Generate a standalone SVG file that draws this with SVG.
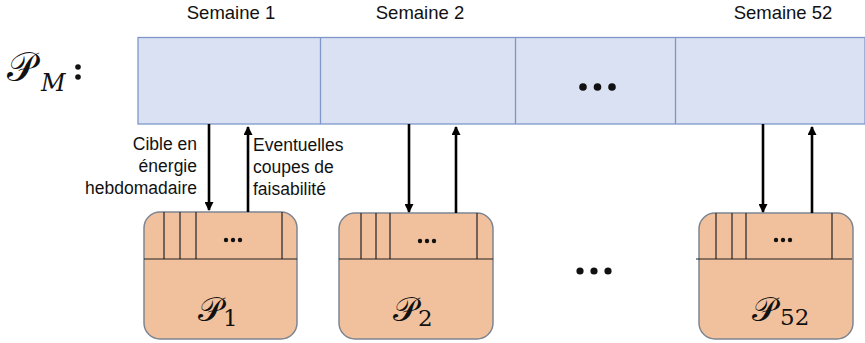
<svg xmlns="http://www.w3.org/2000/svg" width="865" height="343" viewBox="0 0 865 343">
<style>
.lbl{font-family:"Liberation Sans",Arial,sans-serif;font-size:17.5px;fill:#111}
.hdr{font-family:"Liberation Sans",Arial,sans-serif;font-size:18.5px;fill:#111;text-anchor:middle}
.math{font-family:"DejaVu Serif","Noto Sans",serif;fill:#111}
.box{fill:#f1c19e;stroke:#7d8591;stroke-width:1.5}
.div{stroke:#222;stroke-width:1.2}
.arr{stroke:#000;stroke-width:2.6;fill:none;marker-end:url(#ah)}
.dot{fill:#111}
</style>
<defs>
<marker id="ah" markerWidth="9" markerHeight="9" refX="8" refY="4.5" orient="auto" markerUnits="userSpaceOnUse" viewBox="0 0 9 9"><path d="M0,0 L9,4.5 L0,9 z" fill="#000"/></marker>
</defs>
<g id="title">
<text class="math" x="7" y="81" font-size="40">𝒫</text>
<text class="math" x="41" y="91" font-size="24" font-style="italic">M</text>
<circle class="dot" cx="78" cy="67" r="2.8"/>
<circle class="dot" cx="78" cy="77" r="2.8"/>
</g>
<g id="headers">
<text class="hdr" x="231" y="19">Semaine 1</text>
<text class="hdr" x="420" y="19">Semaine 2</text>
<text class="hdr" x="783" y="19">Semaine 52</text>
</g>
<g id="PM">
<rect x="138" y="37.5" width="727" height="86.5" fill="#d9e1f2" stroke="#7f97c8" stroke-width="1.3"/>
<line x1="320.5" y1="37.5" x2="320.5" y2="124" stroke="#7f97c8" stroke-width="1.3"/>
<line x1="515.5" y1="37.5" x2="515.5" y2="124" stroke="#7f97c8" stroke-width="1.3"/>
<line x1="675.5" y1="37.5" x2="675.5" y2="124" stroke="#7f97c8" stroke-width="1.3"/>
<circle class="dot" cx="583" cy="87" r="3.8"/>
<circle class="dot" cx="597.5" cy="87" r="3.8"/>
<circle class="dot" cx="612" cy="87" r="3.8"/>
</g>
<g id="P1">
<rect class="box" x="144" y="212" width="153" height="127" rx="16"/>
<line class="div" x1="144" y1="259" x2="297" y2="259"/>
<line class="div" x1="164" y1="212" x2="164" y2="259"/>
<line class="div" x1="180" y1="212" x2="180" y2="259"/>
<line class="div" x1="196" y1="212" x2="196" y2="259"/>
<line class="div" x1="282" y1="212" x2="282" y2="259"/>
<circle class="dot" cx="226" cy="240" r="2.2"/><circle class="dot" cx="233" cy="240" r="2.2"/><circle class="dot" cx="240" cy="240" r="2.2"/>
<text class="math" x="198" y="321" font-size="34">𝒫</text>
<text class="math" x="223" y="326" font-size="23">1</text>
</g>
<g id="P2">
<rect class="box" x="339" y="213" width="154" height="126" rx="16"/>
<line class="div" x1="339" y1="259" x2="493" y2="259"/>
<line class="div" x1="361" y1="213" x2="361" y2="259"/>
<line class="div" x1="376" y1="213" x2="376" y2="259"/>
<line class="div" x1="390" y1="213" x2="390" y2="259"/>
<line class="div" x1="477" y1="213" x2="477" y2="259"/>
<circle class="dot" cx="420" cy="241" r="2.2"/><circle class="dot" cx="427" cy="241" r="2.2"/><circle class="dot" cx="434" cy="241" r="2.2"/>
<text class="math" x="393" y="321" font-size="34">𝒫</text>
<text class="math" x="418" y="326" font-size="23">2</text>
</g>
<g id="P52">
<rect class="box" x="699" y="213" width="154" height="126" rx="16"/>
<line class="div" x1="696" y1="259" x2="852" y2="259"/>
<line class="div" x1="716" y1="213" x2="716" y2="259"/>
<line class="div" x1="732" y1="213" x2="732" y2="259"/>
<line class="div" x1="746" y1="213" x2="746" y2="259"/>
<line class="div" x1="832" y1="213" x2="832" y2="259"/>
<circle class="dot" cx="776" cy="240" r="2.2"/><circle class="dot" cx="783" cy="240" r="2.2"/><circle class="dot" cx="790" cy="240" r="2.2"/>
<text class="math" x="752" y="321" font-size="34">𝒫</text>
<text class="math" x="780" y="325" font-size="23">52</text>
</g>
<g id="middots">
<circle class="dot" cx="580" cy="271" r="3.6"/>
<circle class="dot" cx="594" cy="271" r="3.6"/>
<circle class="dot" cx="608" cy="271" r="3.6"/>
</g>
<g id="connectors">
<line class="arr" x1="209" y1="124" x2="209" y2="210"/>
<line class="arr" x1="248" y1="212" x2="248" y2="127"/>
<line class="arr" x1="409" y1="124" x2="409" y2="212"/>
<line class="arr" x1="456" y1="213" x2="456" y2="127"/>
<line class="arr" x1="763" y1="124" x2="763" y2="212"/>
<line class="arr" x1="812" y1="213" x2="812" y2="127"/>
</g>
<g id="labels">
<text class="lbl" text-anchor="end" x="197" y="150">Cible en</text>
<text class="lbl" text-anchor="end" x="197" y="172">énergie</text>
<text class="lbl" text-anchor="end" x="197" y="194">hebdomadaire</text>
<text class="lbl" x="253" y="151">Eventuelles</text>
<text class="lbl" x="253" y="173">coupes de</text>
<text class="lbl" x="253" y="195">faisabilité</text>
</g>
</svg>
